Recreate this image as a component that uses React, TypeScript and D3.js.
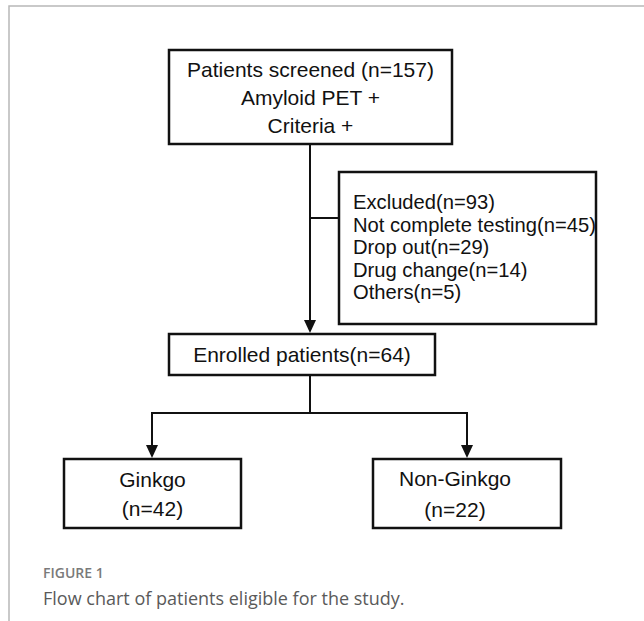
import React, { useEffect, useRef } from 'react';
import * as d3 from 'd3';

// box texts
const screenedLines = ['Patients screened (n=157)', 'Amyloid PET +', 'Criteria +'];
const excludedLines = [
  'Excluded(n=93)',
  'Not complete testing(n=45)',
  'Drop out(n=29)',
  'Drug change(n=14)',
  'Others(n=5)',
];
const enrolledLines = ['Enrolled patients(n=64)'];
const ginkgoLines = ['Ginkgo', '(n=42)'];
const nonGinkgoLines = ['Non-Ginkgo', '(n=22)'];

const captionTitle = 'FIGURE 1';
const captionText = 'Flow chart of patients eligible for the study.';

const W = 644;
const H = 621;

const App: React.FC = () => {
  const ref = useRef<SVGSVGElement | null>(null);

  useEffect(() => {
    document.body.style.margin = '0';
    if (!ref.current) return;
    const svg = d3.select(ref.current);
    svg.selectAll('*').remove();

    const font = '"Liberation Sans", Arial, sans-serif';

    // figure frame (top + left rule)
    svg.append('path')
      .attr('d', `M9,${H} L9,6 L${W},6`)
      .attr('fill', 'none')
      .attr('stroke', '#b8b8b8')
      .attr('stroke-width', 1.5);

    const boxes = [
      { lines: screenedLines, x0: 169, x1: 452, y0: 50, y1: 144, anchor: 'middle', size: 21, step: 28 },
      { lines: excludedLines, x0: 339, x1: 596, y0: 172, y1: 324, anchor: 'start', size: 20.2, step: 22.5, tx: 353, ty: 209 },
      { lines: enrolledLines, x0: 169, x1: 435, y0: 334, y1: 375, anchor: 'middle', size: 21, step: 28 },
      { lines: ginkgoLines, x0: 64, x1: 241, y0: 459, y1: 528, anchor: 'middle', size: 21, step: 29 },
      { lines: nonGinkgoLines, x0: 373, x1: 561, y0: 459, y1: 528, anchor: 'middle', size: 21, step: 31, dx: -12 },
    ];

    const g = svg.selectAll('.box')
      .data(boxes)
      .enter().append('g')
      .attr('class', 'box');

    g.append('rect')
      .attr('x', (d: any) => d.x0)
      .attr('y', (d: any) => d.y0)
      .attr('width', (d: any) => d.x1 - d.x0)
      .attr('height', (d: any) => d.y1 - d.y0)
      .attr('fill', '#fff')
      .attr('stroke', '#111')
      .attr('stroke-width', 2.5);

    g.each(function (d: any) {
      const sel = d3.select(this);
      const n = d.lines.length;
      const cx = (d.x0 + d.x1) / 2 + (d.dx || 0);
      const cy = (d.y0 + d.y1) / 2;
      d.lines.forEach((t: string, i: number) => {
        const y = d.ty != null ? d.ty + i * d.step : cy + (i - (n - 1) / 2) * d.step + d.size * 0.36;
        sel.append('text')
          .attr('x', d.anchor === 'start' ? d.tx : cx)
          .attr('y', y)
          .attr('text-anchor', d.anchor)
          .style('font-family', font)
          .style('font-size', d.size + 'px')
          .style('fill', '#111')
          .text(t);
      });
    });

    // connectors
    const line = d3.line<[number, number]>();
    const connectors: [number, number][][] = [
      [[310, 144], [310, 322]],
      [[310, 218], [339, 218]],
      [[310, 375], [310, 413]],
      [[152, 448], [152, 413], [467, 413], [467, 448]],
    ];
    svg.selectAll('.conn')
      .data(connectors)
      .enter().append('path')
      .attr('class', 'conn')
      .attr('d', (d) => line(d))
      .attr('fill', 'none')
      .attr('stroke', '#111')
      .attr('stroke-width', 2);

    // arrowheads (tip points)
    const tips: [number, number][] = [[310, 333], [152, 458], [467, 458]];
    svg.selectAll('.tip')
      .data(tips)
      .enter().append('path')
      .attr('class', 'tip')
      .attr('d', (d) => `M${d[0]},${d[1]} L${d[0] - 6},${d[1] - 13} L${d[0] + 6},${d[1] - 13} Z`)
      .attr('fill', '#111');

    // caption
    svg.append('text')
      .attr('x', 43)
      .attr('y', 578)
      .style('font-family', '"Open Sans", sans-serif')
      .style('font-size', '14px')
      .style('font-weight', 600)
      .style('fill', '#7a7a7a')
      .text(captionTitle);

    svg.append('text')
      .attr('x', 43)
      .attr('y', 605)
      .style('font-family', '"Open Sans", sans-serif')
      .style('font-size', '18px')
      .style('fill', '#5a5a5a')
      .text(captionText);
  }, []);

  return <svg ref={ref} width={W} height={H} style={{ display: 'block', background: '#fff' }} />;
};

export default App;
